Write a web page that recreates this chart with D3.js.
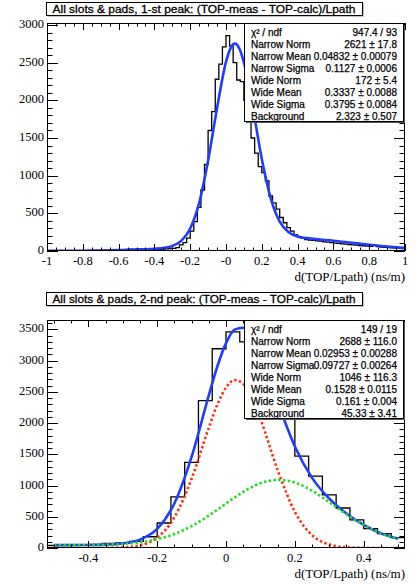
<!DOCTYPE html>
<html>
<head>
<meta charset="utf-8">
<script src="https://cdn.jsdelivr.net/npm/d3@7"></script>
<style>
  html, body { margin: 0; padding: 0; background: #fff; }
  svg { display: block; }
</style>
</head>
<body>
<svg id="chart" width="417" height="586"></svg>
<script>
// ── 1-st peak: 100 bins over [-1, 1] ─────────────────────────────────────────
var PEAK1_TITLE = "All slots & pads, 1-st peak: (TOP-meas - TOP-calc)/Lpath";
var PEAK1_RANGE = [-1, 1];
var PEAK1_YMAX  = 3027;
var PEAK1_COUNTS = [
  1, 2, 1, 2, 3, 2, 3, 4, 3, 5,
  4, 6, 5, 7, 8, 8, 10, 9, 12, 11,
  14, 16, 20, 25, 22, 28, 27, 30, 26, 22,
  20, 22, 25, 28, 32, 35, 45, 80, 110, 170,
  265, 390, 580, 810, 1150, 1600, 1850, 2280, 2480, 2710,
  2860, 2720, 2500, 2270, 2250, 2000, 1750, 1500, 1300, 1120,
  1040, 930, 730, 640, 555, 445, 375, 310, 265, 215,
  185, 170, 150, 145, 140, 135, 130, 122, 118, 110,
  104, 100, 95, 92, 85, 80, 78, 72, 70, 66,
  62, 75, 58, 52, 48, 45, 42, 38, 35, 32
];
// fit curve
var PEAK1_FIT_X = [-1, -0.9, -0.8, -0.7, -0.6, -0.5, -0.45, -0.4, -0.35, -0.3, -0.25, -0.2,
  -0.15, -0.1, -0.05, 0, 0.025, 0.05, 0.075, 0.1, 0.15, 0.2, 0.25, 0.3, 0.35, 0.4,
  0.5, 0.6, 0.7, 0.8, 0.9, 1];
var PEAK1_FIT_Y = [3, 3, 4, 6, 11, 18, 23, 30, 41, 67, 134, 299,
  636, 1200, 1897, 2510, 2691, 2753, 2686, 2503, 1899, 1223, 699, 390, 249, 192,
  158, 137, 110, 83, 59, 39];
var PEAK1_XTICKS  = [-1, -0.8, -0.6, -0.4, -0.2, 0, 0.2, 0.4, 0.6, 0.8, 1];
var PEAK1_XLABELS = ["-1", "-0.8", "-0.6", "-0.4", "-0.2", "-0", "0.2", "0.4", "0.6", "0.8", "1"];
var PEAK1_YTICKS  = [0, 500, 1000, 1500, 2000, 2500, 3000];
var PEAK1_STATS = ["947.4 / 93", "2621 \u00b1 17.8", "0.04832 \u00b1 0.00079", "0.1127 \u00b1 0.0006",
  "172 \u00b1 5.4", "0.3337 \u00b1 0.0088", "0.3795 \u00b1 0.0084", "2.323 \u00b1 0.507"];

// ── 2-nd peak: 26 bins over [-0.52, 0.52] ────────────────────────────────────
var PEAK2_TITLE = "All slots & pads, 2-nd peak: (TOP-meas - TOP-calc)/Lpath";
var PEAK2_RANGE = [-0.52, 0.52];
var PEAK2_YMAX  = 3650;
var PEAK2_COUNTS = [40, 42, 45, 58, 75, 80, 105, 180, 400, 820, 1370, 2360, 3190,
  3460, 3300, 3000, 2550, 2100, 1470, 1150, 850, 640, 450, 310, 230, 165];
var PEAK2_FIT_X = [-0.5, -0.45, -0.4, -0.35, -0.3, -0.25, -0.2, -0.15, -0.1, -0.05, -0.025,
  0, 0.025, 0.05, 0.075, 0.1, 0.15, 0.2, 0.25, 0.3, 0.35, 0.4, 0.45, 0.5];
var PEAK2_FIT_TOTAL = [46, 46, 48, 54, 74, 134, 306, 713, 1458, 2443, 2910,
  3279, 3495, 3527, 3386, 3103, 2339, 1626, 1123, 790, 551, 369, 235, 147];
var PEAK2_FIT_NARROW = [0, 0, 0.2, 1.3, 9, 43, 166, 490, 1108, 1925, 2297,
  2567, 2687, 2629, 2410, 2067, 1248, 579, 206, 56, 12, 2, 0, 0];
var PEAK2_FIT_WIDE = [46, 46, 48, 53, 65, 91, 140, 223, 350, 518, 613,
  712, 808, 898, 976, 1036, 1091, 1047, 917, 734, 539, 367, 235, 147];
var PEAK2_XTICKS  = [-0.4, -0.2, 0, 0.2, 0.4];
var PEAK2_XLABELS = ["-0.4", "-0.2", "0", "0.2", "0.4"];
var PEAK2_YTICKS  = [0, 500, 1000, 1500, 2000, 2500, 3000, 3500];
var PEAK2_STATS = ["149 / 19", "2688 \u00b1 116.0", "0.02953 \u00b1 0.00288", "0.09727 \u00b1 0.00264",
  "1046 \u00b1 116.3", "0.1528 \u00b1 0.0115", "0.161 \u00b1 0.004", "45.33 \u00b1 3.41"];

// ── shared ───────────────────────────────────────────────────────────────────
var STAT_NAMES = ["\u03c7\u00b2 / ndf", "Narrow Norm", "Narrow Mean", "Narrow Sigma",
  "Wide Norm", "Wide Mean", "Wide Sigma", "Background"];
var X_TITLE = "d(TOP/Lpath) (ns/m)";

(function () {
  var svg = d3.select("#chart");

  var FRAME_L = 47, FRAME_R = 405;
  var BLUE = "#1f3cff", RED = "#ff2d0f", GREEN = "#1fdc1f";
  var SANS  = "'Liberation Sans', Arial, Helvetica, sans-serif";
  var SERIF = "'Liberation Serif', 'Times New Roman', serif";

  var panels = [
    { id: "p1", title: PEAK1_TITLE, titleY: 2, top: 23, bottom: 251, statsTop: 23,
      range: PEAK1_RANGE, yMax: PEAK1_YMAX, counts: PEAK1_COUNTS,
      xticks: PEAK1_XTICKS, xlabels: PEAK1_XLABELS, yticks: PEAK1_YTICKS, stats: PEAK1_STATS,
      fits: [{ x: PEAK1_FIT_X, y: PEAK1_FIT_Y, color: BLUE, dotted: false }] },
    { id: "p2", title: PEAK2_TITLE, titleY: 292, top: 320, bottom: 548, statsTop: 320,
      range: PEAK2_RANGE, yMax: PEAK2_YMAX, counts: PEAK2_COUNTS,
      xticks: PEAK2_XTICKS, xlabels: PEAK2_XLABELS, yticks: PEAK2_YTICKS, stats: PEAK2_STATS,
      fits: [
        { x: PEAK2_FIT_X, y: PEAK2_FIT_TOTAL,  color: BLUE,  dotted: false },
        { x: PEAK2_FIT_X, y: PEAK2_FIT_NARROW, color: RED,   dotted: true },
        { x: PEAK2_FIT_X, y: PEAK2_FIT_WIDE,   color: GREEN, dotted: true }
      ] }
  ];

  panels.forEach(drawPanel);

  function minorValues(lo, hi, step) {
    var out = [];
    for (var k = Math.ceil(lo / step - 1e-6); k <= Math.floor(hi / step + 1e-6); k++) {
      out.push(+(k * step).toFixed(6));
    }
    return out;
  }

  function drawPanel(p) {
    var x = d3.scaleLinear().domain(p.range).range([FRAME_L, FRAME_R]);
    var y = d3.scaleLinear().domain([0, p.yMax]).range([p.bottom, p.top]);
    var g = svg.append("g");
    var clipId = "clip-" + p.id;

    svg.append("clipPath").attr("id", clipId).append("rect")
      .attr("x", FRAME_L).attr("y", p.top)
      .attr("width", FRAME_R - FRAME_L).attr("height", p.bottom - p.top);

    // Histogram outline (steps)
    var n = p.counts.length, bw = (p.range[1] - p.range[0]) / n;
    var pts = [[p.range[0], 0]];
    p.counts.forEach(function (c, i) { pts.push([p.range[0] + i * bw, c]); });
    pts.push([p.range[1], 0]);
    var step = d3.line()
      .x(function (d) { return x(d[0]); })
      .y(function (d) { return y(d[1]); })
      .curve(d3.curveStepAfter);
    g.append("path")
      .attr("d", step(pts))
      .attr("fill", "none")
      .attr("stroke", "#000")
      .attr("stroke-width", 1.3)
      .attr("clip-path", "url(#" + clipId + ")");

    // Fit curves
    p.fits.forEach(function (f) {
      var line = d3.line()
        .x(function (d, i) { return x(f.x[i]); })
        .y(function (d) { return y(d); })
        .curve(d3.curveMonotoneX);
      g.append("path")
        .attr("d", line(f.y))
        .attr("fill", "none")
        .attr("stroke", f.color)
        .attr("stroke-width", 2.6)
        .attr("stroke-dasharray", f.dotted ? "2.4,2.4" : null)
        .attr("clip-path", "url(#" + clipId + ")");
    });

    // Frame
    g.append("rect")
      .attr("x", FRAME_L + 0.5).attr("y", p.top + 0.5)
      .attr("width", FRAME_R - FRAME_L - 1).attr("height", p.bottom - p.top - 1)
      .attr("fill", "none").attr("stroke", "#000").attr("stroke-width", 1);

    // Ticks — ROOT style, on all four sides, pointing inwards
    var ticks = g.append("g").attr("stroke", "#000").attr("stroke-width", 1);
    var xMinor = minorValues(p.range[0], p.range[1], 0.05);
    xMinor.forEach(function (v) {
      var major = p.xticks.some(function (t) { return Math.abs(t - v) < 1e-6; });
      var len = major ? 7 : 3.5, px = Math.round(x(v)) + 0.5;
      ticks.append("line").attr("x1", px).attr("x2", px)
        .attr("y1", p.bottom).attr("y2", p.bottom - len);
      ticks.append("line").attr("x1", px).attr("x2", px)
        .attr("y1", p.top).attr("y2", p.top + len);
    });
    var yMinor = minorValues(0, p.yMax, 100);
    yMinor.forEach(function (v) {
      var major = p.yticks.indexOf(v) >= 0;
      var len = major ? 11 : 5.5, py = Math.round(y(v)) + 0.5;
      ticks.append("line").attr("x1", FRAME_L).attr("x2", FRAME_L + len)
        .attr("y1", py).attr("y2", py);
      ticks.append("line").attr("x1", FRAME_R).attr("x2", FRAME_R - len)
        .attr("y1", py).attr("y2", py);
    });

    // Tick labels
    g.append("g").selectAll("text")
      .data(p.xticks)
      .join("text")
      .attr("x", function (d) { return x(d); })
      .attr("y", p.bottom + 14)
      .attr("text-anchor", "middle")
      .attr("font-family", SERIF)
      .attr("font-size", 12.5)
      .text(function (d, i) { return p.xlabels[i]; });

    g.append("g").selectAll("text")
      .data(p.yticks)
      .join("text")
      .attr("x", FRAME_L - 3)
      .attr("y", function (d) { return y(d) + 3; })
      .attr("text-anchor", "end")
      .attr("font-family", SERIF)
      .attr("font-size", 12.5)
      .text(function (d) { return d; });

    g.append("text")
      .attr("x", FRAME_R)
      .attr("y", p.bottom + 29.5)
      .attr("text-anchor", "end")
      .attr("font-family", SERIF)
      .attr("font-size", 13)
      .text(X_TITLE);

    // Stats box
    var sx = 244, sw = 159, sh = 98, st = p.statsTop;
    g.append("rect").attr("x", sx + 2).attr("y", st + 2).attr("width", sw).attr("height", sh)
      .attr("fill", "#555");
    g.append("rect").attr("x", sx + 0.5).attr("y", st + 0.5).attr("width", sw).attr("height", sh)
      .attr("fill", "#fff").attr("stroke", "#000").attr("stroke-width", 1);
    STAT_NAMES.forEach(function (name, i) {
      var ty = st + 12.5 + i * 12.1;
      g.append("text").attr("x", sx + 7).attr("y", ty)
        .attr("font-family", SANS).attr("font-size", 10)
        .attr("stroke", "#000").attr("stroke-width", 0.25).text(name);
      g.append("text").attr("x", sx + 153).attr("y", ty)
        .attr("text-anchor", "end")
        .attr("font-family", SANS).attr("font-size", 10)
        .attr("stroke", "#000").attr("stroke-width", 0.25).text(p.stats[i]);
    });

    // Title box
    var tx = 46, tw = 316, th = 13;
    g.append("rect").attr("x", tx + 1.5).attr("y", p.titleY + 1.5).attr("width", tw).attr("height", th)
      .attr("fill", "#888");
    g.append("rect").attr("x", tx + 0.5).attr("y", p.titleY + 0.5).attr("width", tw).attr("height", th)
      .attr("fill", "#fff").attr("stroke", "#000").attr("stroke-width", 1);
    g.append("text")
      .attr("x", tx + tw / 2).attr("y", p.titleY + 11)
      .attr("text-anchor", "middle")
      .attr("font-family", SANS).attr("font-size", 11.5)
      .attr("stroke", "#000").attr("stroke-width", 0.3)
      .attr("textLength", 303).attr("lengthAdjust", "spacingAndGlyphs")
      .text(p.title);
  }
})();
</script>
</body>
</html>
